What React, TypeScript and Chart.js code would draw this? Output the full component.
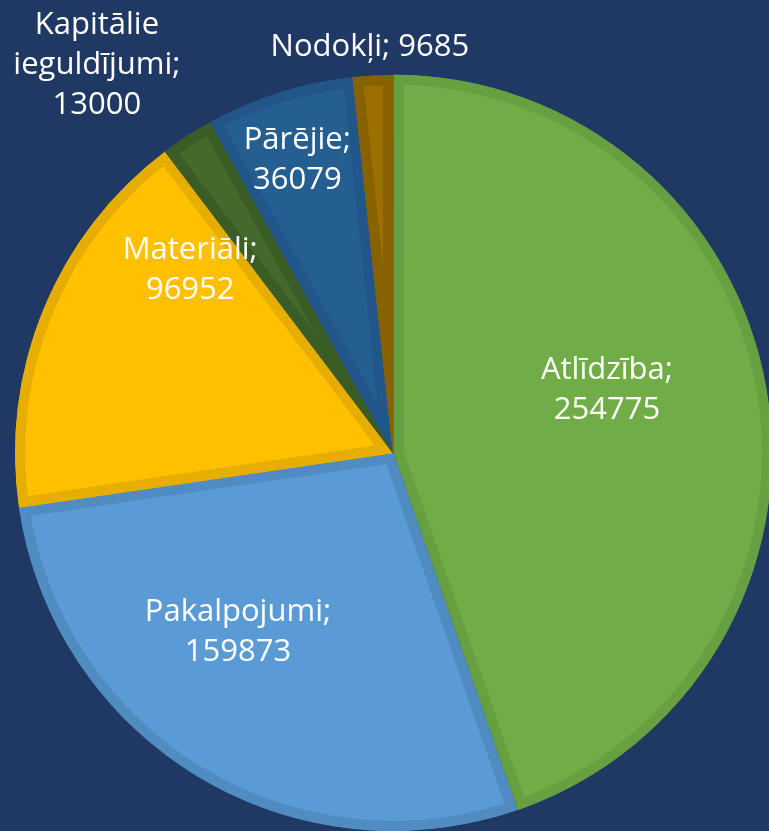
import React, { useEffect, useRef } from "react";
import { Chart, registerables } from "chart.js";

Chart.register(...registerables);

const categories = ["Atlīdzība", "Pakalpojumi", "Materiāli", "Kapitālie ieguldījumi", "Pārējie", "Nodokļi"];
const values = [254775, 159873, 96952, 13000, 36079, 9685];

const fillColors = ["#70AD47", "#5B9BD5", "#FFC000", "#43692B", "#255E91", "#9C7000"];
const borderColors = ["#66A040", "#508CC2", "#E6AD02", "#3A5C25", "#22558A", "#886200"];

// label layout: angle shift (deg) from slice middle, radius fraction, wrap mode
const labelShift = [-6.8, 9.6, 19.7, -4.4, -0.6, -0.2];
const labelRadius = [0.59, 0.627, 0.722, 1.29, 0.815, 1.076];
const labelWrap = ["two", "two", "two", "words", "two", "one"];

const BG = "#203864";

function buildLines(name: string, value: number, mode: string): string[] {
  if (mode === "one") return [`${name}; ${value}`];
  if (mode === "words") {
    const w = name.split(" ");
    w[w.length - 1] = w[w.length - 1] + ";";
    return [...w, String(value)];
  }
  return [`${name};`, String(value)];
}

const labelPlugin = {
  id: "sliceLabels",
  afterDatasetsDraw(chart: any) {
    const meta = chart.getDatasetMeta(0);
    const ctx = chart.ctx;
    ctx.save();
    ctx.fillStyle = "#FFFFFF";
    ctx.font = '31px "Open Sans"';
    ctx.textAlign = "center";
    ctx.textBaseline = "middle";
    const lineH = 40;
    meta.data.forEach((arc: any, i: number) => {
      const p = arc.getProps(["x", "y", "startAngle", "endAngle", "outerRadius"], true);
      const mid = (p.startAngle + p.endAngle) / 2 + (labelShift[i] * Math.PI) / 180;
      const r = p.outerRadius * labelRadius[i];
      const cx = p.x + Math.cos(mid) * r;
      const cy = p.y + Math.sin(mid) * r;
      const lines = buildLines(categories[i], values[i], labelWrap[i]);
      const top = cy - ((lines.length - 1) * lineH) / 2;
      lines.forEach((ln, k) => ctx.fillText(ln, cx, top + k * lineH));
    });
    ctx.restore();
  },
};

export default function App() {
  const ref = useRef<HTMLCanvasElement | null>(null);
  useEffect(() => {
    if (!ref.current) return;
    const chart = new Chart(ref.current, {
      type: "pie",
      data: {
        labels: categories,
        datasets: [
          {
            data: values,
            backgroundColor: fillColors,
            borderColor: borderColors,
            borderWidth: 10,
            borderAlign: "inner",
            borderJoinStyle: "miter",
            offset: [3, 0, 0, 0, 0, 0],
            radius: 378,
          } as any,
        ],
      },
      options: {
        responsive: false,
        animation: false,
        layout: { padding: { left: 17, top: 75, right: 0, bottom: 0 } },
        plugins: { legend: { display: false }, tooltip: { enabled: false } },
      },
      plugins: [labelPlugin],
    });
    return () => chart.destroy();
  }, []);
  return (
    <div style={{ position: "fixed", left: 0, top: 0, width: 769, height: 831, background: BG, overflow: "hidden" }}>
      <canvas ref={ref} width={769} height={831} style={{ display: "block" }} />
    </div>
  );
}
